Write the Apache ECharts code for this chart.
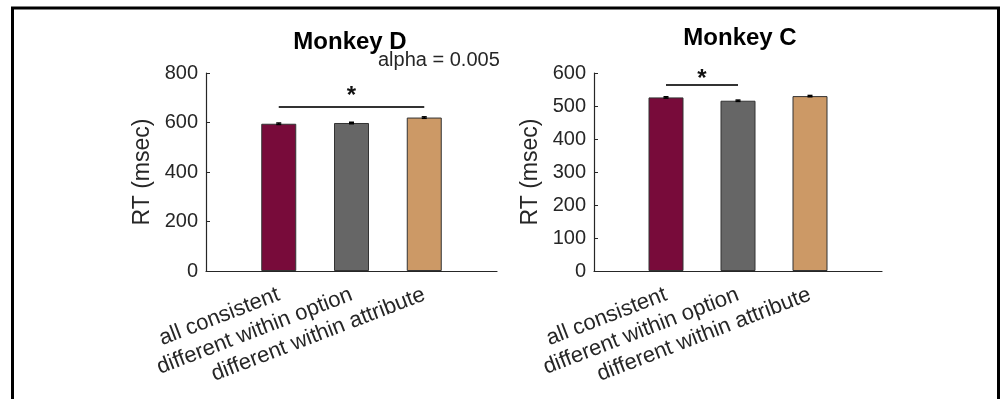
<!DOCTYPE html>
<html>
<head>
<meta charset="utf-8">
<script src="https://cdn.jsdelivr.net/npm/echarts@6/dist/echarts.min.js"></script>
<style>
html,body{margin:0;padding:0;background:#fff;}
#chart{width:1003px;height:399px;}
</style>
</head>
<body>
<div id="chart"></div>
<script>
// ---- data ----
const categories = ['all consistent', 'different within option', 'different within attribute'];
const monkeyD_rt = [595, 598, 620];
const monkeyD_sem = [3, 3, 3];
const monkeyC_rt = [526, 516, 530];
const monkeyC_sem = [2, 2, 2];
const monkeyD_yTicks = [0, 200, 400, 600, 800];
const monkeyC_yTicks = [0, 100, 200, 300, 400, 500, 600];
// significance brackets: [fromCategory, toCategory, lineValue, starValue]
const monkeyD_sig = [1, 3, 663, 731];
const monkeyC_sig = [1, 2, 564, 600];
const alphaText = 'alpha = 0.005';

// ---- styles ----
const FONT = "'Liberation Sans', Arial, Helvetica, sans-serif";
const TXT = '#262626';
const barColors = ['#780B3A', '#666666', '#CC9966'];

const chart = echarts.init(document.getElementById('chart'), null, {renderer: 'canvas'});

function xAxisCfg(gi) {
  return {
    type: 'value', gridIndex: gi, min: 0, max: categories.length + 1, interval: 1,
    axisLine: {show: true, onZero: false, lineStyle: {color: TXT, width: 1.2}},
    axisTick: {show: true, inside: true, length: 4, customValues: [1, 2, 3], lineStyle: {color: TXT}},
    axisLabel: {
      customValues: [1, 2, 3], rotate: 21, fontSize: 22, fontFamily: FONT, color: TXT, margin: 23,
      formatter: v => categories[Math.round(v) - 1] || ''
    },
    splitLine: {show: false}
  };
}
function yAxisCfg(gi, ticks) {
  return {
    type: 'value', gridIndex: gi, min: ticks[0], max: ticks[ticks.length - 1],
    interval: ticks[1] - ticks[0],
    name: 'RT (msec)', nameLocation: 'middle', nameGap: 52,
    nameTextStyle: {fontSize: 23, fontFamily: FONT, color: TXT},
    axisLine: {show: true, lineStyle: {color: TXT, width: 1.2}},
    axisTick: {show: true, inside: true, length: 4, lineStyle: {color: TXT}},
    axisLabel: {fontSize: 20, fontFamily: FONT, color: TXT, margin: 8},
    splitLine: {show: false}
  };
}
function barSeries(gi, vals) {
  return {
    type: 'bar', xAxisIndex: gi, yAxisIndex: gi, barWidth: 35,
    data: vals.map((v, i) => ({value: [i + 1, v], itemStyle: {color: barColors[i]}})),
    itemStyle: {borderColor: '#333', borderWidth: 1},
    silent: true, animation: false
  };
}
function errSeries(gi, vals, errs) {
  return {
    type: 'custom', xAxisIndex: gi, yAxisIndex: gi, silent: true, animation: false, z: 5,
    data: vals.map((v, i) => [i + 1, v - errs[i], v + errs[i]]),
    renderItem: function (params, api) {
      const x = api.value(0);
      const p1 = api.coord([x, api.value(1)]);
      const p2 = api.coord([x, api.value(2)]);
      const w = 2.5;
      const st = {stroke: '#000', lineWidth: 1.5};
      return {type: 'group', children: [
        {type: 'line', shape: {x1: p1[0], y1: p1[1], x2: p2[0], y2: p2[1]}, style: st},
        {type: 'line', shape: {x1: p1[0] - w, y1: p1[1], x2: p1[0] + w, y2: p1[1]}, style: st},
        {type: 'line', shape: {x1: p2[0] - w, y1: p2[1], x2: p2[0] + w, y2: p2[1]}, style: st}
      ]};
    }
  };
}
function sigSeries(gi, sig) {
  return [{
    type: 'line', xAxisIndex: gi, yAxisIndex: gi, clip: false, silent: true, animation: false,
    symbol: 'none', data: [[sig[0], sig[2]], [sig[1], sig[2]]],
    lineStyle: {color: '#333', width: 2}
  }, {
    type: 'custom', xAxisIndex: gi, yAxisIndex: gi, clip: false, silent: true, animation: false,
    data: [[(sig[0] + sig[1]) / 2, sig[3]]],
    renderItem: function (params, api) {
      const p = api.coord([api.value(0), api.value(1)]);
      return {type: 'text', x: p[0], y: p[1] + 6, style: {
        text: '*', font: 'bold 24px ' + FONT, fill: '#111', align: 'center', verticalAlign: 'middle'
      }};
    }
  }];
}

const option = {
  backgroundColor: '#fff',
  animation: false,
  title: [
    {text: 'Monkey D', left: 345, top: 25, textAlign: 'center',
     textStyle: {fontSize: 24, fontWeight: 'bold', fontFamily: FONT, color: '#000'}},
    {text: alphaText, left: 373, top: 45,
     textStyle: {fontSize: 20, fontWeight: 'normal', fontFamily: FONT, color: TXT}},
    {text: 'Monkey C', left: 735, top: 21, textAlign: 'center',
     textStyle: {fontSize: 24, fontWeight: 'bold', fontFamily: FONT, color: '#000'}}
  ],
  grid: [
    {left: 206, top: 73, width: 291, height: 198, containLabel: false},
    {left: 594, top: 73, width: 288, height: 198, containLabel: false}
  ],
  xAxis: [xAxisCfg(0), xAxisCfg(1)],
  yAxis: [yAxisCfg(0, monkeyD_yTicks), yAxisCfg(1, monkeyC_yTicks)],
  series: [
    barSeries(0, monkeyD_rt), errSeries(0, monkeyD_rt, monkeyD_sem), ...sigSeries(0, monkeyD_sig),
    barSeries(1, monkeyC_rt), errSeries(1, monkeyC_rt, monkeyC_sem), ...sigSeries(1, monkeyC_sig)
  ],
  graphic: [{
    type: 'rect', silent: true,
    shape: {x: 12.5, y: 8, width: 986, height: 420},
    style: {fill: 'none', stroke: '#000', lineWidth: 3}
  }]
};
chart.setOption(option);
</script>
</body>
</html>
